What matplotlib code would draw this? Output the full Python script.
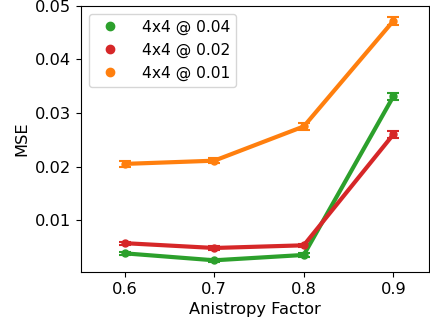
import matplotlib
matplotlib.use("Agg")
import matplotlib.pyplot as plt
from matplotlib.lines import Line2D

anisotropy = [0.6, 0.7, 0.8, 0.9]
labels = ["4x4 @ 0.04", "4x4 @ 0.02", "4x4 @ 0.01"]
colors = ["tab:green", "tab:red", "tab:orange"]
mse_004 = [0.0038, 0.0025, 0.0035, 0.0331]
mse_002 = [0.0057, 0.0048, 0.0053, 0.0260]
mse_001 = [0.0205, 0.0211, 0.0275, 0.0472]
err_004 = [0.0003, 0.0003, 0.0003, 0.0006]
err_002 = [0.0003, 0.0003, 0.0003, 0.0007]
err_001 = [0.0006, 0.0005, 0.0006, 0.0008]

series = [(mse_004, err_004), (mse_002, err_002), (mse_001, err_001)]

plt.rcParams["font.size"] = 11.7
fig, ax = plt.subplots(figsize=(4.3, 3.29), dpi=100)
fig.subplots_adjust(left=0.188, right=0.998, top=0.982, bottom=0.173)

handles = []
for (vals, errs), c, lab in zip(series, colors, labels):
    ax.errorbar(anisotropy, vals, yerr=errs, color=c, lw=3, marker="o", ms=5,
                capsize=4, capthick=1.5, elinewidth=1.5)
    handles.append(Line2D([], [], ls="none", marker="o", color=c, ms=6, label=lab))

ax.set_xlim(0.551, 0.94)
ax.set_ylim(0.0003, 0.05)
ax.set_xticks(anisotropy)
ax.set_yticks([0.01, 0.02, 0.03, 0.04, 0.05])
ax.set_xlabel("Anistropy Factor")
ax.set_ylabel("MSE")
ax.legend(handles=handles, loc="upper left", fontsize=11.2, handletextpad=1.0)

fig.savefig("out.png", dpi=100)
